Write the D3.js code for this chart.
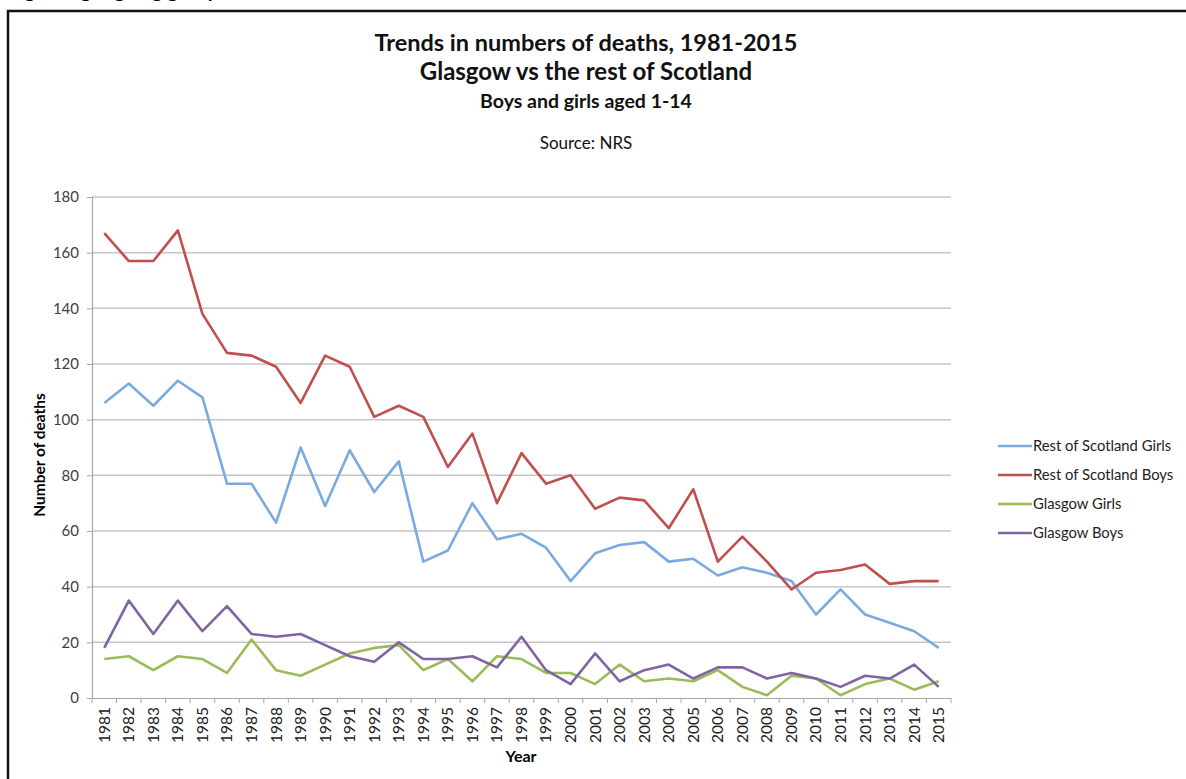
<!DOCTYPE html>
<html>
<head>
<meta charset="utf-8">
<script src="https://d3js.org/d3.v7.min.js"></script>
<style>
 body { margin: 0; background: #fff; }
 svg { display: block; font-family: Lato, "Open Sans", sans-serif; }
</style>
</head>
<body>
<svg width="1186" height="779"></svg>
<script>

// years on the category axis
const years = d3.range(1981, 2016);

// deaths
const restGirls = [106,113,105,114,108,77,77,63,90,69,89,74,85,49,53,70,57,59,54,42,52,55,56,49,50,44,47,45,42,30,39,30,27,24,18];
const restBoys  = [167,157,157,168,138,124,123,119,106,123,119,101,105,101,83,95,70,88,77,80,68,72,71,61,75,49,58,49,39,45,46,48,41,42,42];
const glasGirls = [14,15,10,15,14,9,21,10,8,12,16,18,19,10,14,6,15,14,9,9,5,12,6,7,6,10,4,1,8,7,1,5,7,3,6];
const glasBoys  = [18,35,23,35,24,33,23,22,23,19,15,13,20,14,14,15,11,22,10,5,16,6,10,12,7,11,11,7,9,7,4,8,7,12,4];

const seriesNames = ["Rest of Scotland Girls", "Rest of Scotland Boys", "Glasgow Girls", "Glasgow Boys"];
const yTicks = [0,20,40,60,80,100,120,140,160,180];

const colors = ["#7aaae0", "#c0504d", "#9bbb59", "#8064a2"];
const allSeries = [restGirls, restBoys, glasGirls, glasBoys];

const svg = d3.select("svg");

// heading above the box, mostly cut off by the page top
svg.append("text")
  .attr("x", 8).attr("y", -3)
  .style("font-weight", "bold").style("font-size", "20px")
  .text("Figure 9g: Ageing groups");

// outer box (runs off the right and bottom)
svg.append("rect")
  .attr("x", 8).attr("y", 11)
  .attr("width", 1300).attr("height", 900)
  .attr("fill", "none").attr("stroke", "#111").attr("stroke-width", 2.5);

// titles
const titles = [
  {t: "Trends in numbers of deaths, 1981-2015", y: 51, s: 23.5, w: "bold"},
  {t: "Glasgow vs the rest of Scotland", y: 80, s: 24, w: "bold"},
  {t: "Boys and girls aged 1-14", y: 108, s: 19.5, w: "bold"},
  {t: "Source: NRS", y: 149, s: 17, w: "normal"}
];
svg.selectAll("text.title").data(titles).enter()
  .append("text").attr("class", "title")
  .attr("x", 586).attr("y", d => d.y)
  .attr("text-anchor", "middle")
  .style("font-size", d => d.s + "px")
  .style("font-weight", d => d.w)
  .attr("fill", "#111")
  .text(d => d.t);

// scales
const x = d3.scaleBand().domain(years).range([92, 951]);
const y = d3.scaleLinear().domain([0, 180]).range([698, 197]);

// gridlines
svg.append("g")
  .selectAll("line").data(yTicks.filter(d => d > 0)).enter()
  .append("line")
  .attr("x1", 92).attr("x2", 951)
  .attr("y1", d => y(d)).attr("y2", d => y(d))
  .attr("stroke", "#c6c6c6").attr("stroke-width", 1.5);

// y axis
const yAxis = svg.append("g")
  .attr("transform", "translate(92,0)")
  .call(d3.axisLeft(y).tickValues(yTicks).tickSize(5).tickPadding(8));
yAxis.select(".domain").attr("stroke", "#a6a6a6").attr("stroke-width", 1.2);
yAxis.selectAll(".tick line").attr("stroke", "#a6a6a6");
yAxis.selectAll("text").style("font-size", "15px").style("font-family", "Lato, sans-serif").attr("fill", "#404040");

// x axis
const xAxis = svg.append("g")
  .attr("transform", "translate(0,698)")
  .call(d3.axisBottom(x).tickSize(0).tickPadding(0));
xAxis.select(".domain").attr("stroke", "#a6a6a6").attr("stroke-width", 1.2);
xAxis.selectAll(".tick text")
  .attr("transform", "rotate(-90)")
  .attr("x", -9).attr("y", 0).attr("dy", "0.35em")
  .attr("text-anchor", "end")
  .style("font-size", "15.5px").style("font-family", "Lato, sans-serif")
  .attr("fill", "#222");
// tick marks between categories
svg.append("g").selectAll("line")
  .data(years.concat([2016])).enter()
  .append("line")
  .attr("x1", d => d === 2016 ? 951 : x(d)).attr("x2", d => d === 2016 ? 951 : x(d))
  .attr("y1", 698).attr("y2", 703)
  .attr("stroke", "#a6a6a6");

// axis titles
svg.append("text")
  .attr("x", 521).attr("y", 762)
  .attr("text-anchor", "middle")
  .style("font-size", "16px").style("font-weight", "bold")
  .text("Year");
svg.append("text")
  .attr("transform", "translate(45,455) rotate(-90)")
  .attr("text-anchor", "middle")
  .style("font-size", "15.5px").style("font-weight", "bold")
  .text("Number of deaths");

// lines
const line = d3.line()
  .x((d, i) => x(years[i]) + x.bandwidth() / 2)
  .y(d => y(d));

svg.append("g").selectAll("path")
  .data(allSeries).enter()
  .append("path")
  .attr("d", line)
  .attr("fill", "none")
  .attr("stroke", (d, i) => colors[i])
  .attr("stroke-width", 2.6)
  .attr("stroke-linejoin", "round");

// legend
const legend = svg.append("g").selectAll("g")
  .data(seriesNames).enter()
  .append("g")
  .attr("transform", (d, i) => "translate(998," + (446 + i * 29) + ")");
legend.append("line")
  .attr("x1", 0).attr("x2", 34)
  .attr("stroke", (d, i) => colors[i]).attr("stroke-width", 2.6);
legend.append("text")
  .attr("x", 35).attr("dy", "0.35em")
  .style("font-size", "14.8px").attr("fill", "#222")
  .text(d => d);

</script>
</body>
</html>
